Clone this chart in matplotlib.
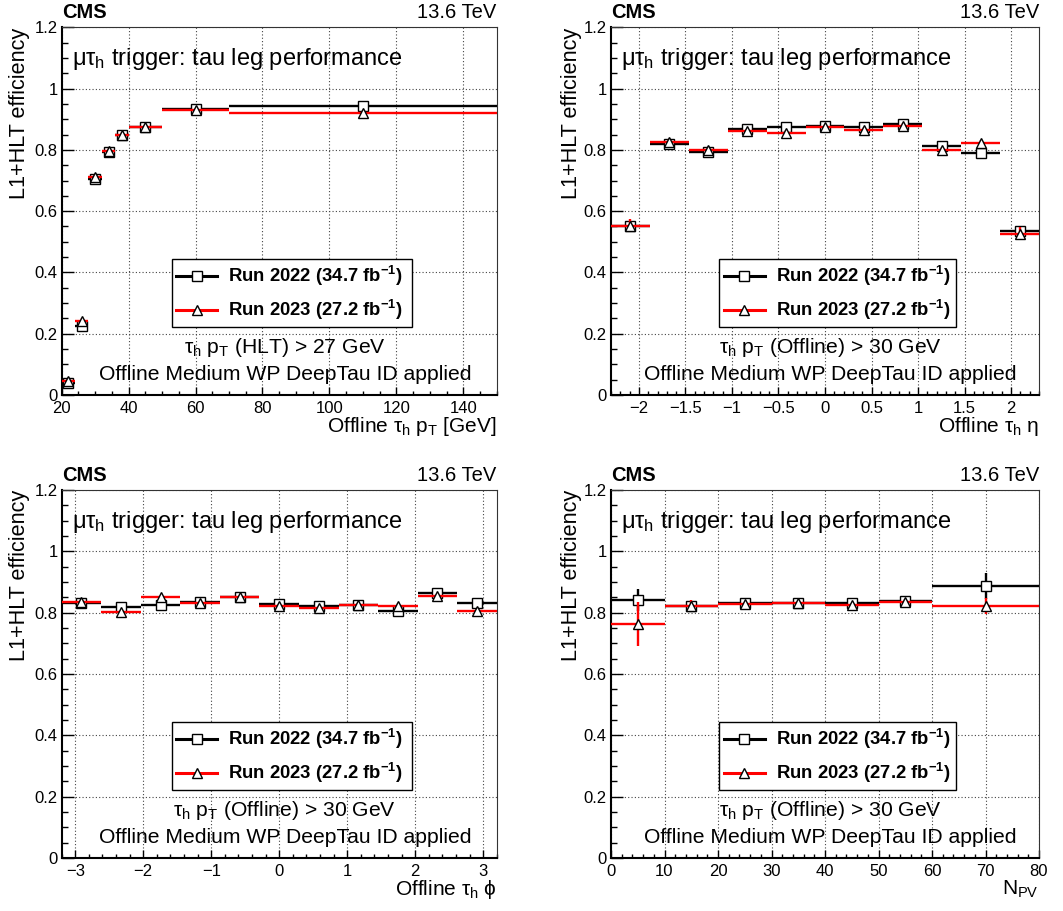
import matplotlib
matplotlib.use('Agg')
import matplotlib.pyplot as plt
from matplotlib.lines import Line2D
from matplotlib.ticker import MultipleLocator, FuncFormatter
import numpy as np

plt.rcParams['font.family'] = ['Liberation Sans', 'DejaVu Sans']
plt.rcParams['mathtext.fontset'] = 'custom'
plt.rcParams['mathtext.rm'] = 'Liberation Sans'
plt.rcParams['mathtext.it'] = 'Liberation Sans'
plt.rcParams['mathtext.sf'] = 'Liberation Sans'
plt.rcParams['mathtext.bf'] = 'Liberation Sans:bold'

# ---------------- data ----------------
pt_edges = [20, 24, 28, 32, 36, 40, 50, 70, 150]
pt_eff_2022 = [0.038, 0.225, 0.704, 0.792, 0.847, 0.874, 0.934, 0.943]
pt_eff_2023 = [0.046, 0.243, 0.713, 0.797, 0.850, 0.874, 0.931, 0.919]
pt_err_2022 = [0.004, 0.008, 0.008, 0.007, 0.007, 0.005, 0.005, 0.006]
pt_err_2023 = [0.005, 0.009, 0.009, 0.008, 0.008, 0.006, 0.006, 0.007]

eta_edges = [-2.3, -1.882, -1.464, -1.045, -0.627, -0.209, 0.209, 0.627, 1.045, 1.464, 1.882, 2.3]
eta_eff_2022 = [0.553, 0.818, 0.794, 0.867, 0.873, 0.877, 0.875, 0.884, 0.812, 0.791, 0.536]
eta_eff_2023 = [0.553, 0.825, 0.799, 0.860, 0.856, 0.873, 0.865, 0.878, 0.800, 0.823, 0.526]
eta_err_2022 = [0.012, 0.008, 0.008, 0.007, 0.007, 0.007, 0.007, 0.007, 0.008, 0.008, 0.012]
eta_err_2023 = [0.020, 0.010, 0.010, 0.009, 0.009, 0.009, 0.009, 0.009, 0.010, 0.010, 0.021]

phi_edges = [-3.2, -2.618, -2.036, -1.455, -0.873, -0.291, 0.291, 0.873, 1.455, 2.036, 2.618, 3.2]
phi_eff_2022 = [0.833, 0.820, 0.826, 0.835, 0.851, 0.827, 0.822, 0.826, 0.806, 0.864, 0.831]
phi_eff_2023 = [0.835, 0.802, 0.852, 0.830, 0.852, 0.822, 0.816, 0.826, 0.823, 0.855, 0.806]
phi_err_2022 = [0.006] * 11
phi_err_2023 = [0.007] * 11

npv_edges = [0, 10, 20, 30, 40, 50, 60, 80]
npv_eff_2022 = [0.841, 0.822, 0.830, 0.830, 0.830, 0.837, 0.887]
npv_eff_2023 = [0.763, 0.822, 0.828, 0.830, 0.824, 0.835, 0.822]
npv_err_2022 = [0.035, 0.008, 0.005, 0.005, 0.006, 0.010, 0.042]
npv_err_2023 = [0.072, 0.018, 0.006, 0.005, 0.007, 0.010, 0.026]

series_labels = [r'Run 2022 (34.7 fb$^{\mathbf{-1}}$)', r'Run 2023 (27.2 fb$^{\mathbf{-1}}$)']

panels = [
    dict(edges=pt_edges, v1=pt_eff_2022, v2=pt_eff_2023, e1=pt_err_2022, e2=pt_err_2023,
         xlim=(20, 150), major=20, minor=5, xlabel=r'Offline $\tau_h$ $p_T$ [GeV]',
         sel=r'$\tau_h$ $p_T$ (HLT) > 27 GeV'),
    dict(edges=eta_edges, v1=eta_eff_2022, v2=eta_eff_2023, e1=eta_err_2022, e2=eta_err_2023,
         xlim=(-2.3, 2.3), major=0.5, minor=0.1, xlabel=r'Offline $\tau_h$ $\eta$',
         sel=r'$\tau_h$ $p_T$ (Offline) > 30 GeV'),
    dict(edges=phi_edges, v1=phi_eff_2022, v2=phi_eff_2023, e1=phi_err_2022, e2=phi_err_2023,
         xlim=(-3.2, 3.2), major=1, minor=0.2, xlabel=r'Offline $\tau_h$ $\phi$',
         sel=r'$\tau_h$ $p_T$ (Offline) > 30 GeV'),
    dict(edges=npv_edges, v1=npv_eff_2022, v2=npv_eff_2023, e1=npv_err_2022, e2=npv_err_2023,
         xlim=(0, 80), major=10, minor=2, xlabel=r'$N_{PV}$',
         sel=r'$\tau_h$ $p_T$ (Offline) > 30 GeV'),
]

W, H = 1063, 911
fig = plt.figure(figsize=(W / 100, H / 100), dpi=100)

boxes = [  # left, top, right, bottom in pixels
    (61.7, 27.3, 496.7, 395),
    (611, 27.3, 1039, 395),
    (61.7, 490, 496.7, 858),
    (611, 490, 1039, 858),
]

ylab_x = [-0.074, -0.068, -0.074, -0.068]

styles = [
    dict(color='black', marker='s'),
    dict(color='#ff0000', marker='^'),
]

fmt = FuncFormatter(lambda v, p: ('%g' % v).replace('-', '\u2212'))

for i, (p, b) in enumerate(zip(panels, boxes)):
    l, t, r, bt = b
    ax = fig.add_axes([l / W, 1 - bt / H, (r - l) / W, (bt - t) / H])
    edges = np.array(p['edges'], dtype=float)
    centers = 0.5 * (edges[:-1] + edges[1:])
    half = 0.5 * (edges[1:] - edges[:-1])
    for k, (vals, errs) in enumerate([(p['v1'], p['e1']), (p['v2'], p['e2'])]):
        st = styles[k]
        ax.errorbar(centers, vals, xerr=half, yerr=errs, fmt='none', ecolor=st['color'],
                    elinewidth=1.7, capsize=0, zorder=3 + 2 * k)
        ax.plot(centers, vals, linestyle='none', marker=st['marker'], markersize=7.5,
                markerfacecolor='white', markeredgecolor='black', markeredgewidth=1.0,
                zorder=4 + 2 * k)
    ax.set_xlim(*p['xlim'])
    ax.set_ylim(0, 1.2)
    ax.xaxis.set_major_locator(MultipleLocator(p['major']))
    ax.xaxis.set_minor_locator(MultipleLocator(p['minor']))
    ax.yaxis.set_major_locator(MultipleLocator(0.2))
    ax.yaxis.set_minor_locator(MultipleLocator(0.05))
    ax.xaxis.set_major_formatter(fmt)
    ax.yaxis.set_major_formatter(fmt)
    ax.tick_params(axis='both', which='both', direction='in', top=False, right=False,
                   labelsize=12, width=1.0)
    ax.tick_params(axis='x', which='major', length=5.5, pad=4)
    ax.tick_params(axis='x', which='minor', length=3)
    ax.tick_params(axis='y', which='major', length=8.5, pad=3)
    ax.tick_params(axis='y', which='minor', length=4.5)
    ax.grid(True, which='major', color='#444444', linestyle=(0, (1, 2)), linewidth=0.8)
    ax.set_axisbelow(True)
    for s in ['left', 'bottom']:
        ax.spines[s].set_linewidth(1.5)
    for s in ['top', 'right']:
        ax.spines[s].set_linewidth(0.8)
        ax.spines[s].set_color('#333333')

    ax.set_xlabel(p['xlabel'], fontsize=15, loc='right')
    ax.xaxis.set_label_coords(1.0, -0.055)
    ax.set_ylabel('L1+HLT efficiency', fontsize=15.6, loc='top')
    ax.yaxis.set_label_coords(ylab_x[i], 1.0)

    ax.text(0.0, 1.025, 'CMS', transform=ax.transAxes, fontsize=14.5, fontweight='bold',
            ha='left', va='baseline')
    ax.text(1.0, 1.025, '13.6 TeV', transform=ax.transAxes, fontsize=14.5,
            ha='right', va='baseline')
    ax.text(0.023, 0.897, r'$\mu\tau_h$ trigger: tau leg performance', transform=ax.transAxes,
            fontsize=17, ha='left', va='baseline')
    ax.text(0.513, 0.114, p['sel'], transform=ax.transAxes, fontsize=15.2,
            ha='center', va='baseline')
    ax.text(0.513, 0.041, 'Offline Medium WP DeepTau ID applied', transform=ax.transAxes,
            fontsize=15.2, ha='center', va='baseline')

    handles = [Line2D([0], [0], color=st['color'], lw=2.2, marker=st['marker'], markersize=7,
                      markerfacecolor='white', markeredgecolor='black', markeredgewidth=1.0)
               for st in styles]
    leg = ax.legend(handles, series_labels, loc='lower left',
                    bbox_to_anchor=(0.253, 0.185, 0.552, 0.187), mode='expand',
                    prop=dict(weight='bold', size=13.3), frameon=True, fancybox=False,
                    edgecolor='black', framealpha=1, borderpad=0.25, labelspacing=0.55,
                    handlelength=2.2, handletextpad=0.6, borderaxespad=0)
    leg.get_frame().set_linewidth(1.0)
    leg.set_zorder(10)

fig.savefig('out.png', dpi=100)
